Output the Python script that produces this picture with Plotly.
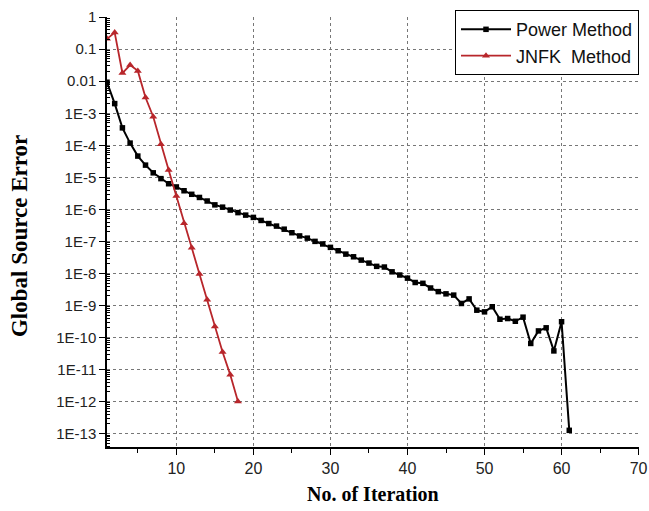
import plotly.graph_objects as go

# ---- data ----
iter_power = list(range(1, 62))
err_power = [
    9.3e-3, 2.0e-3, 3.5e-4, 1.17e-4, 4.6e-5, 2.4e-5, 1.38e-5, 9.1e-6, 6.3e-6, 5.0e-6,
    3.8e-6, 2.95e-6, 2.35e-6, 1.82e-6, 1.38e-6, 1.17e-6, 9.5e-7, 7.9e-7, 6.6e-7, 5.6e-7,
    4.5e-7, 3.6e-7, 3.0e-7, 2.4e-7, 1.86e-7, 1.48e-7, 1.26e-7, 1.0e-7, 8.3e-8, 6.5e-8,
    5.1e-8, 4.0e-8, 3.3e-8, 2.6e-8, 2.1e-8, 1.66e-8, 1.58e-8, 1.12e-8, 8.9e-9, 7.1e-9,
    5.2e-9, 4.9e-9, 3.5e-9, 2.7e-9, 2.3e-9, 2.1e-9, 1.15e-9, 1.6e-9, 7.1e-10, 6.3e-10,
    9.1e-10, 3.7e-10, 3.9e-10, 3.2e-10, 4.3e-10, 6.5e-11, 1.6e-10, 2.0e-10, 3.8e-11, 3.1e-10,
    1.26e-13,
]

iter_jnfk = list(range(1, 19))
err_jnfk = [
    0.21, 0.33, 0.018, 0.032, 0.021, 3.1e-3, 7.8e-4, 1.07e-4, 1.7e-5, 2.6e-6,
    3.7e-7, 6.3e-8, 9.5e-9, 1.5e-9, 2.2e-10, 3.5e-11, 6.8e-12, 1.0e-12,
]

y_tickvals = [1, 0.1, 0.01, 1e-3, 1e-4, 1e-5, 1e-6, 1e-7, 1e-8, 1e-9, 1e-10, 1e-11, 1e-12, 1e-13]
y_ticktext = ["1", "0.1", "0.01", "1E-3", "1E-4", "1E-5", "1E-6", "1E-7", "1E-8",
              "1E-9", "1E-10", "1E-11", "1E-12", "1E-13"]
x_tickvals = [10, 20, 30, 40, 50, 60, 70]

y_minor = [k * 10.0 ** e for e in range(-14, 0) for k in range(2, 10)]

fig = go.Figure()
fig.add_trace(go.Scatter(
    x=iter_power, y=err_power, mode="lines+markers", name="Power Method",
    line=dict(color="black", width=2),
    marker=dict(symbol="square", size=5.5, color="black"),
))
fig.add_trace(go.Scatter(
    x=iter_jnfk, y=err_jnfk, mode="lines+markers", name="JNFK\u00a0 Method",
    line=dict(color="#b8262b", width=1.8),
    marker=dict(symbol="triangle-up", size=7, color="#b8262b"),
))

tick_font = dict(family="Arial, Liberation Sans, sans-serif", size=15, color="#222")
title_font = dict(family="Times New Roman, Liberation Serif, serif", color="black")

fig.update_layout(
    width=649, height=511,
    margin=dict(l=107, r=10, t=15, b=64),
    paper_bgcolor="white", plot_bgcolor="white",
    showlegend=True,
    legend=dict(
        x=1, y=1.016, xanchor="right", yanchor="top",
        bordercolor="black", borderwidth=1, bgcolor="white",
        font=dict(family="Arial, Liberation Sans, sans-serif", size=18, color="#111"),
        itemwidth=50, tracegroupgap=0,
    ),
    xaxis=dict(
        range=[1, 70.05], tickmode="array", tickvals=x_tickvals,
        showline=True, linecolor="black", linewidth=1.5,
        ticks="outside", ticklen=6, tickwidth=1.2, tickcolor="black",
        tickfont=dict(tick_font, size=16),
        showgrid=True, gridcolor="#777", griddash="dot", gridwidth=1,
        zeroline=False, automargin=False,
        minor=dict(tickmode="array", tickvals=[5, 15, 25, 35, 45, 55, 65],
                   ticks="outside", ticklen=4, tickcolor="black", showgrid=False),
    ),
    yaxis=dict(
        type="log", range=[-13.42, 0.005],
        tickmode="array", tickvals=y_tickvals, ticktext=y_ticktext,
        showline=True, linecolor="black", linewidth=1.5,
        ticks="outside", ticklen=6, tickwidth=1.2, tickcolor="black",
        tickfont=tick_font,
        showgrid=True, gridcolor="#777", griddash="dot", gridwidth=1,
        zeroline=False, automargin=False,
        minor=dict(tickmode="array", tickvals=y_minor,
                   ticks="inside", ticklen=3, tickcolor="black", showgrid=False),
    ),
    annotations=[
        dict(text="<b>Global Source Error</b>", xref="paper", yref="paper",
             x=-0.164, y=0.49, xanchor="center", yanchor="middle", textangle=-90,
             showarrow=False, font=dict(size=23, **title_font)),
        dict(text="<b>No. of Iteration</b>", xref="paper", yref="paper",
             x=0.5, y=-0.11, xanchor="center", yanchor="middle",
             showarrow=False, font=dict(size=20, **title_font)),
    ],
)

fig.write_html(
    "out.html",
    config={"displayModeBar": False},
    post_script="document.body.style.margin='0';document.body.style.padding='0';",
)
